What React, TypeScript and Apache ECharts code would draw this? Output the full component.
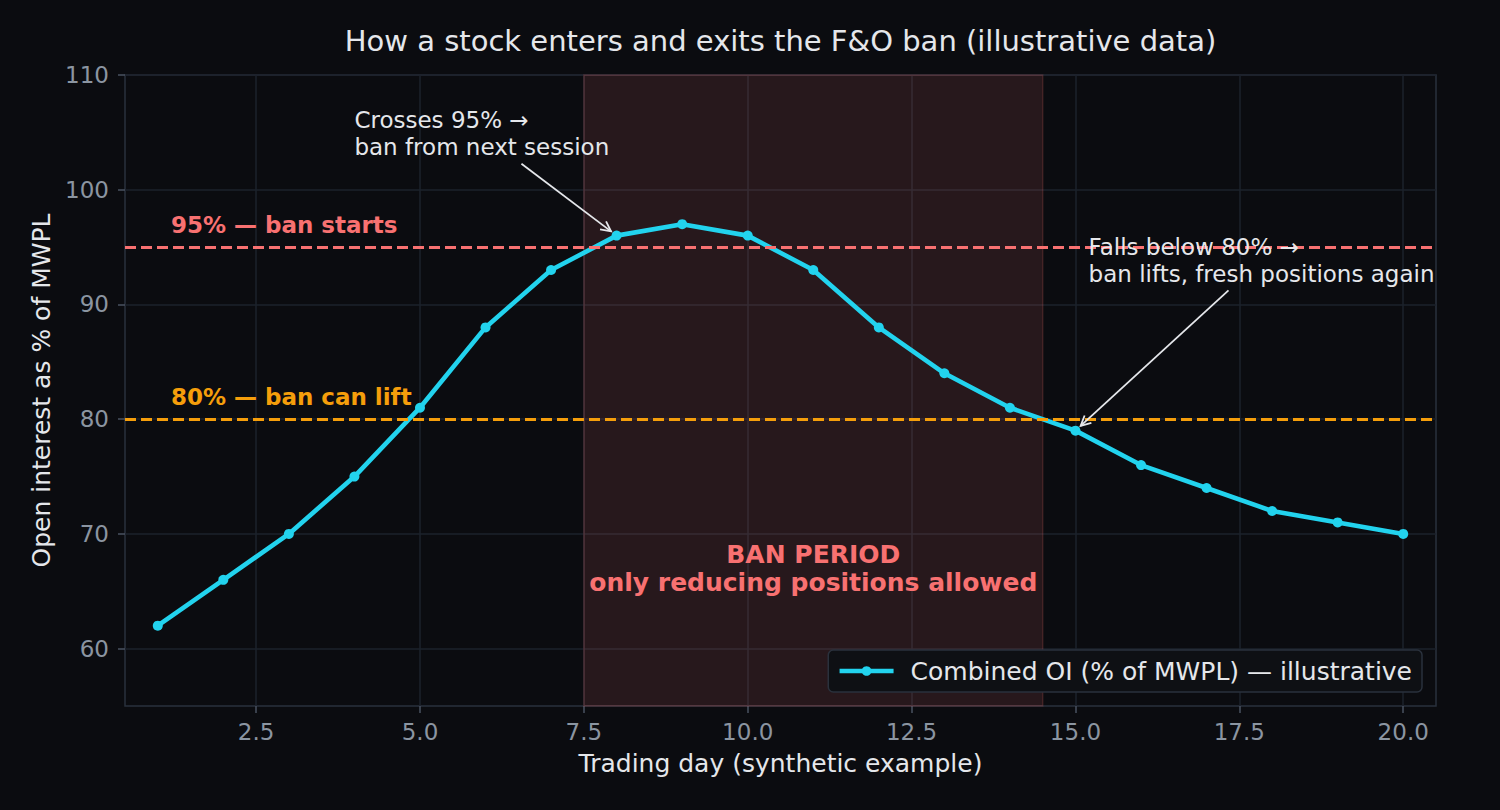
import React, { useEffect, useRef } from "react";
import * as echarts from "echarts";

// ---------- data ----------
const days = [1, 2, 3, 4, 5, 6, 7, 8, 9, 10, 11, 12, 13, 14, 15, 16, 17, 18, 19, 20];
const oiValues = [62, 66, 70, 75, 81, 88, 93, 96, 97, 96, 93, 88, 84, 81, 79, 76, 74, 72, 71, 70];
const xTickValues = [2.5, 5, 7.5, 10, 12.5, 15, 17.5, 20];
const yTickValues = [60, 70, 80, 90, 100, 110];
const xLimits = [0.5, 20.5];
const yLimits = [55, 110];
const banStartLevel = 95;
const banLiftLevel = 80;
const banPeriod = [7.5, 14.5];

const seriesName = "Combined OI (% of MWPL) — illustrative";
const titleText = "How a stock enters and exits the F&O ban (illustrative data)";
const xAxisTitle = "Trading day (synthetic example)";
const yAxisTitle = "Open interest as % of MWPL";
const banStartText = "95% — ban starts";
const banLiftText = "80% — ban can lift";
const banTextLines = ["BAN PERIOD", "only reducing positions allowed"];
const enterNoteLines = ["Crosses 95% →", "ban from next session"];
const exitNoteLines = ["Falls below 80% →", "ban lifts, fresh positions again"];

// ---------- style ----------
const BG = "#0b0c10";
const TEXT = "#e5e7eb";
const TICK_TEXT = "#8b95a1";
const GRID = "#1c222b";
const SPINE = "#2a313c";
const TICK = "#4a5260";
const CYAN = "#22d3ee";
const RED = "#f87171";
const ORANGE = "#f59e0b";
const FONT = "'DejaVu Sans', sans-serif";

// annotation anchors in data coordinates (x, baseline of last line)
const levelLabelAnchors = [
  { text: banStartText, x: 1.2, y: 96.2, color: RED },
  { text: banLiftText, x: 1.2, y: 81.2, color: ORANGE },
];
const notes = [
  { lines: enterNoteLines, x: 4, y: 103, target: [8, 96] },
  { lines: exitNoteLines, x: 15.2, y: 92, target: [15, 79] },
];
const banLabelAnchor = { x: 11, y: 65 };

function measure(text: string, size: number, weight = "normal") {
  const c = document.createElement("canvas").getContext("2d")!;
  c.font = `${weight} ${size}px 'DejaVu Sans'`;
  return c.measureText(text).width;
}

export default function App() {
  const ref = useRef<HTMLDivElement>(null);

  useEffect(() => {
    document.body.style.margin = "0";
    document.body.style.background = BG;
    const chart = echarts.init(ref.current!, null, { renderer: "svg" });

    const gridLeft = 125;
    const gridRight = 64;
    const titleSize = 29;
    const titleCenter = (gridLeft + (1500 - gridRight)) / 2;
    const titleWidth = measure(titleText, titleSize);

    const option: any = {
      animation: false,
      backgroundColor: BG,
      textStyle: { fontFamily: FONT },
      title: {
        text: titleText,
        left: titleCenter - titleWidth / 2,
        top: 26,
        padding: 0,
        textStyle: { color: TEXT, fontSize: titleSize, fontWeight: "normal", fontFamily: FONT, lineHeight: 29 },
      },
      grid: {
        left: gridLeft,
        right: gridRight,
        top: 75,
        bottom: 104,
        show: true,
        borderColor: SPINE,
        borderWidth: 1.5,
        backgroundColor: "transparent",
        containLabel: false,
        outerBoundsMode: "none",
      },
      legend: {
        data: [seriesName],
        right: 78,
        top: 650,
        itemWidth: 54,
        itemHeight: 12,
        padding: [8, 10, 8, 9],
        backgroundColor: "#0e1014",
        borderColor: SPINE,
        borderWidth: 1.5,
        borderRadius: 5,
        lineStyle: { width: 4.6, color: CYAN },
        textStyle: { color: TEXT, fontSize: 25, fontFamily: FONT, lineHeight: 26, padding: [0, 0, 0, 12] },
      },
      xAxis: {
        type: "value",
        min: xLimits[0],
        max: xLimits[1],
        name: xAxisTitle,
        nameLocation: "middle",
        nameGap: 45,
        nameTextStyle: { color: TEXT, fontSize: 25, fontFamily: FONT, lineHeight: 25 },
        axisLine: { show: false },
        axisTick: { show: true, customValues: xTickValues, length: 7, lineStyle: { color: TICK, width: 1.5 } },
        axisLabel: {
          customValues: xTickValues,
          color: TICK_TEXT,
          fontSize: 23,
          fontFamily: FONT,
          lineHeight: 23,
          margin: 14,
          formatter: (v: number) => v.toFixed(1),
        },
        splitLine: { show: true, lineStyle: { color: GRID, width: 1.5 } },
      },
      yAxis: {
        type: "value",
        min: yLimits[0],
        max: yLimits[1],
        name: yAxisTitle,
        nameLocation: "middle",
        nameGap: 71,
        nameTextStyle: { color: TEXT, fontSize: 25, fontFamily: FONT, lineHeight: 25 },
        axisLine: { show: false },
        axisTick: { show: true, customValues: yTickValues, length: 7, lineStyle: { color: TICK, width: 1.5 } },
        axisLabel: {
          customValues: yTickValues,
          color: TICK_TEXT,
          fontSize: 23,
          fontFamily: FONT,
          margin: 16,
          formatter: (v: number) => String(Math.round(v)),
        },
        splitLine: { show: true, lineStyle: { color: GRID, width: 1.5 } },
      },
      series: [
        {
          name: "thresholds",
          type: "line",
          data: [],
          z: 1,
          silent: true,
          markArea: {
            silent: true,
            itemStyle: { color: "rgba(248,113,113,0.12)", borderColor: "rgba(248,113,113,0.18)", borderWidth: 1.5 },
            label: { show: false },
            data: [[{ xAxis: banPeriod[0] }, { xAxis: banPeriod[1] }]],
          },
          markLine: {
            silent: true,
            symbol: "none",
            label: { show: false },
            data: [
              { yAxis: banStartLevel, lineStyle: { color: RED, type: [11, 5], width: 2.8 } },
              { yAxis: banLiftLevel, lineStyle: { color: ORANGE, type: [11, 5], width: 2.8 } },
            ],
          },
        },
        {
          name: seriesName,
          type: "line",
          z: 3,
          data: days.map((d, i) => [d, oiValues[i]]),
          symbol: "circle",
          symbolSize: 10,
          showSymbol: true,
          color: CYAN,
          lineStyle: { color: CYAN, width: 4.6 },
          itemStyle: { color: CYAN },
        },
      ],
    };
    chart.setOption(option);

    const toPx = (x: number, y: number) => chart.convertToPixel({ gridIndex: 0 }, [x, y]) as number[];
    const CENTRAL = 0.346;
    const graphics: any[] = [];
    const addText = (text: string, x: number, baseline: number, size: number, color: string, weight: string, align: string) => {
      graphics.push({
        type: "text",
        z: 100,
        x,
        y: baseline - CENTRAL * size,
        style: {
          text,
          fill: color,
          fontSize: size,
          fontFamily: FONT,
          fontWeight: weight,
          textAlign: align,
          align,
          textVerticalAlign: "middle",
          verticalAlign: "middle",
        },
      });
    };

    // threshold labels
    levelLabelAnchors.forEach((l) => {
      const [px, py] = toPx(l.x, l.y);
      addText(l.text, px, py, 23, l.color, "bold", "left");
    });

    // ban period label
    {
      const [px, py] = toPx(banLabelAnchor.x, banLabelAnchor.y);
      const lh = 28;
      banTextLines.forEach((t, i) => {
        addText(t, px, py - (banTextLines.length - 1 - i) * lh, 25, RED, "bold", "center");
      });
    }

    // arrow notes
    notes.forEach((n) => {
      const F = 23;
      const lh = 27;
      const [px, py] = toPx(n.x, n.y);
      n.lines.forEach((t, i) => addText(t, px, py - (n.lines.length - 1 - i) * lh, F, TEXT, "normal", "left"));
      const w = Math.max(...n.lines.map((t) => measure(t, F)));
      const top = py - (n.lines.length - 1) * lh - 0.93 * F;
      const bottom = py + 0.236 * F;
      const cx = px + w / 2;
      const cy = (top + bottom) / 2;
      const [tx, ty] = toPx(n.target[0], n.target[1]);
      const dx = tx - cx;
      const dy = ty - cy;
      const len = Math.hypot(dx, dy);
      const ux = dx / len;
      const uy = dy / len;
      const t0 = (bottom - cy) / dy;
      const sx = cx + dx * t0 + ux * 5;
      const sy = cy + dy * t0 + uy * 5;
      const ex = tx - ux * 7;
      const ey = ty - uy * 7;
      graphics.push({
        type: "line",
        z: 100,
        shape: { x1: sx, y1: sy, x2: ex, y2: ey },
        style: { stroke: TEXT, lineWidth: 1.8 },
      });
      const L = 10;
      const W = 5;
      graphics.push({
        type: "polyline",
        z: 100,
        shape: {
          points: [
            [ex - ux * L - uy * W, ey - uy * L + ux * W],
            [ex, ey],
            [ex - ux * L + uy * W, ey - uy * L - ux * W],
          ],
        },
        style: { stroke: TEXT, lineWidth: 1.8, fill: "none" },
      });
    });

    chart.setOption({ graphic: graphics });

    return () => chart.dispose();
  }, []);

  return (
    <div
      ref={ref}
      style={{ position: "fixed", left: 0, top: 0, width: 1500, height: 810, background: BG }}
    />
  );
}
